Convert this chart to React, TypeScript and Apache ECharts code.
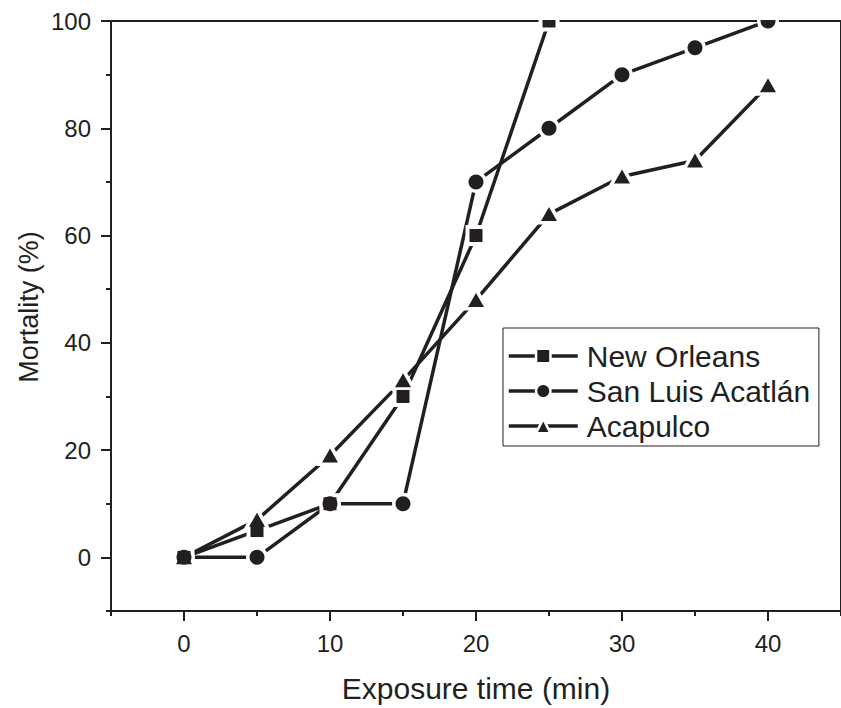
import React, { useEffect, useRef } from "react";
import * as echarts from "echarts";

const xValues = [0, 5, 10, 15, 20, 25, 30, 35, 40];
const newOrleans = [0, 5, 10, 30, 60, 100];
const sanLuis = [0, 0, 10, 10, 70, 80, 90, 95, 100];
const acapulco = [0, 7, 19, 33, 48, 64, 71, 74, 88];
const xTickLabels = [0, 10, 20, 30, 40];
const yTickLabels = [0, 20, 40, 60, 80, 100];
const seriesNames = ["New Orleans", "San Luis Acatlán", "Acapulco"];

const INK = "#231f20";
const FONT = "'Liberation Sans', Arial, sans-serif";

export default function App() {
  const ref = useRef<HTMLDivElement>(null);
  useEffect(() => {
    if (!ref.current) return;
    const chart = echarts.init(ref.current, undefined, { renderer: "svg" });
    const toPairs = (vals: number[]) => vals.map((v, i) => [xValues[i], v]);
    const lineSeries = (name: string, vals: number[], symbol: string) => ({
      type: "line",
      name,
      data: toPairs(vals),
      symbol,
      showSymbol: false,
      clip: true,
      z: 2,
      lineStyle: { color: INK, width: 3.5 },
      itemStyle: { color: INK },
      emphasis: { disabled: true },
    });
    const haloSeries = (vals: number[], symbol: string, size: any, offset: any = [0, 0]) => ({
      type: "scatter",
      data: toPairs(vals),
      symbol,
      symbolSize: size,
      symbolOffset: offset,
      clip: true,
      z: 3,
      silent: true,
      itemStyle: { color: "#fff", opacity: 1 },
    });
    const markerSeries = (name: string, vals: number[], symbol: string, size: any) => ({
      type: "scatter",
      name: name + " marker",
      data: toPairs(vals),
      symbol,
      symbolSize: size,
      clip: true,
      z: 4,
      silent: true,
      itemStyle: { color: INK, opacity: 1 },
    });
    chart.setOption({
      animation: false,
      backgroundColor: "#fff",
      textStyle: { fontFamily: FONT },
      grid: {
        left: 111,
        top: 21,
        right: -6,
        bottom: 96,
        show: true,
        borderColor: INK,
        borderWidth: 2,
        backgroundColor: "transparent",
      },
      xAxis: [
        {
          type: "value",
          min: -5,
          max: 45,
          position: "bottom",
          splitLine: { show: false },
          axisLine: { show: true, onZero: false, lineStyle: { color: INK, width: 2 } },
          axisTick: { show: true, length: 10, lineStyle: { color: INK, width: 2 }, customValues: xTickLabels },
          axisLabel: { fontSize: 24, color: INK, margin: 20, fontFamily: FONT, customValues: xTickLabels },
          name: "Exposure time (min)",
          nameLocation: "middle",
          nameGap: 62,
          nameTextStyle: { fontSize: 30, color: INK, fontFamily: FONT },
        },
        {
          type: "value",
          min: -5,
          max: 45,
          interval: 5,
          position: "bottom",
          splitLine: { show: false },
          axisLine: { show: false, onZero: false },
          axisTick: { show: true, length: 5, lineStyle: { color: INK, width: 2 } },
          axisLabel: { show: false },
        },
      ],
      yAxis: [
        {
          type: "value",
          min: -10,
          max: 100,
          position: "left",
          splitLine: { show: false },
          axisLine: { show: true, onZero: false, lineStyle: { color: INK, width: 2 } },
          axisTick: { show: true, length: 10, lineStyle: { color: INK, width: 2 }, customValues: yTickLabels },
          axisLabel: { fontSize: 24, color: INK, margin: 20, fontFamily: FONT, customValues: yTickLabels },
        },
        {
          type: "value",
          min: -10,
          max: 100,
          interval: 10,
          position: "left",
          splitLine: { show: false },
          axisLine: { show: false, onZero: false },
          axisTick: { show: true, length: 5, lineStyle: { color: INK, width: 2 } },
          axisLabel: { show: false },
        },
      ],
      legend: {
        show: true,
        orient: "vertical",
        left: 503,
        top: 328,
        padding: [13, 7, 5, 4],
        itemWidth: 69,
        itemHeight: 18,
        itemGap: 5,
        borderColor: INK,
        borderWidth: 1,
        backgroundColor: "#fff",
        data: seriesNames,
        textStyle: { fontSize: 30, color: INK, fontFamily: FONT, padding: [0, 0, 0, 4] },
        itemStyle: { color: INK, borderWidth: 2.5, borderColor: "#fff" },
        lineStyle: { width: 3.5, color: INK },
      },
      series: [
        lineSeries(seriesNames[0], newOrleans, "rect"),
        lineSeries(seriesNames[1], sanLuis, "circle"),
        lineSeries(seriesNames[2], acapulco, "triangle"),
        haloSeries(newOrleans, "rect", 21),
        haloSeries(sanLuis, "circle", 22),
        haloSeries(acapulco, "triangle", [28, 25], [0, -2]),
        markerSeries(seriesNames[0], newOrleans, "rect", 13),
        markerSeries(seriesNames[1], sanLuis, "circle", 15),
        markerSeries(seriesNames[2], acapulco, "triangle", [16, 14]),
      ],
      graphic: [
        {
          type: "rect",
          left: 112,
          top: 0,
          shape: { width: 729, height: 20 },
          style: { fill: "#fff" },
          z: 100,
        },
        {
          type: "text",
          x: 29,
          y: 307,
          rotation: Math.PI / 2,
          style: {
            text: "Mortality (%)",
            fontSize: 27,
            fill: INK,
            fontFamily: FONT,
            align: "center",
            verticalAlign: "middle",
          },
          z: 100,
        },
      ],
    });
    return () => chart.dispose();
  }, []);
  return (
    <div
      ref={ref}
      style={{ position: "fixed", left: 0, top: 0, width: 841, height: 708, background: "#fff" }}
    />
  );
}
